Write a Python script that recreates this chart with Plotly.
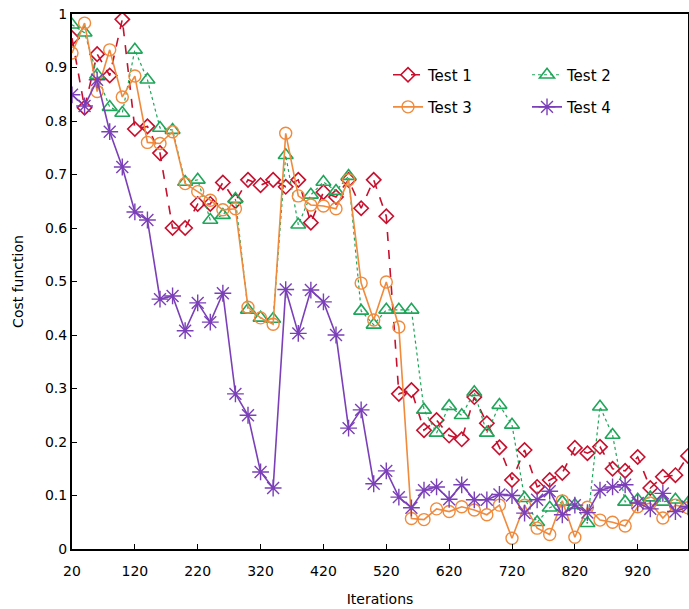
import plotly.graph_objects as go

iterations = list(range(20, 1001, 20))

test1 = [0.955, 0.825, 0.925, 0.885, 0.99, 0.785, 0.79, 0.74, 0.60, 0.60,
         0.645, 0.645, 0.685, 0.65, 0.69, 0.68, 0.69, 0.677, 0.69, 0.61,
         0.667, 0.658, 0.69, 0.637, 0.69, 0.622, 0.29, 0.297, 0.222, 0.241,
         0.212, 0.205, 0.284, 0.235, 0.19, 0.129, 0.185, 0.116, 0.129, 0.142,
         0.189, 0.179, 0.191, 0.15, 0.146, 0.172, 0.114, 0.135, 0.138, 0.174]

test2 = [0.98, 0.965, 0.886, 0.826, 0.815, 0.933, 0.877, 0.787, 0.783, 0.686,
         0.69, 0.615, 0.624, 0.654, 0.447, 0.432, 0.43, 0.736, 0.606, 0.662,
         0.686, 0.669, 0.697, 0.445, 0.419, 0.447, 0.447, 0.447, 0.26, 0.217,
         0.267, 0.25, 0.293, 0.217, 0.269, 0.232, 0.095, 0.05, 0.077, 0.088,
         0.082, 0.048, 0.266, 0.213, 0.088, 0.092, 0.096, 0.088, 0.092, 0.086]

test3 = [0.927, 0.983, 0.855, 0.933, 0.845, 0.884, 0.76, 0.758, 0.78, 0.683,
         0.668, 0.652, 0.634, 0.636, 0.452, 0.432, 0.42, 0.777, 0.66, 0.643,
         0.641, 0.636, 0.69, 0.497, 0.428, 0.499, 0.415, 0.057, 0.055, 0.075,
         0.07, 0.079, 0.073, 0.064, 0.082, 0.02, 0.082, 0.039, 0.027, 0.09,
         0.022, 0.078, 0.054, 0.05, 0.043, 0.079, 0.086, 0.058, 0.082, 0.077]

test4 = [0.849, 0.828, 0.877, 0.78, 0.714, 0.63, 0.615, 0.467, 0.473, 0.408,
         0.46, 0.424, 0.478, 0.29, 0.25, 0.144, 0.114, 0.485, 0.403, 0.484,
         0.462, 0.4, 0.226, 0.26, 0.122, 0.146, 0.097, 0.077, 0.11, 0.116,
         0.093, 0.12, 0.092, 0.092, 0.102, 0.1, 0.067, 0.092, 0.108, 0.064,
         0.082, 0.068, 0.11, 0.116, 0.12, 0.086, 0.075, 0.104, 0.07, 0.079]

x_ticks = [20, 120, 220, 320, 420, 520, 620, 720, 820, 920]

RED = "#C8102E"
GREEN = "#1FA65A"
ORANGE = "#F08A3C"
PURPLE = "#7B3FB8"

FONT = "DejaVu Sans, Verdana, sans-serif"

fig = go.Figure()

fig.add_trace(go.Scatter(
    x=iterations, y=test1, name="Test 1", mode="lines+markers",
    line=dict(color=RED, width=1.6, dash="dash"),
    marker=dict(symbol="diamond-open", size=11, color=RED, line=dict(width=1.6, color=RED)),
    legend="legend"))
fig.add_trace(go.Scatter(
    x=iterations, y=test2, name="Test 2", mode="lines+markers",
    line=dict(color=GREEN, width=1.2, dash="dot"),
    marker=dict(symbol="triangle-up-open", size=13, color=GREEN, line=dict(width=1.6, color=GREEN)),
    legend="legend"))
fig.add_trace(go.Scatter(
    x=iterations, y=test3, name="Test 3", mode="lines+markers",
    line=dict(color=ORANGE, width=1.6),
    marker=dict(symbol="circle-open", size=12, color=ORANGE, line=dict(width=1.4, color=ORANGE)),
    legend="legend2"))
fig.add_trace(go.Scatter(
    x=iterations, y=test4, name="Test 4", mode="lines+markers",
    line=dict(color=PURPLE, width=1.6),
    marker=dict(symbol="asterisk-open", size=14, color=PURPLE, line=dict(width=1.4, color=PURPLE)),
    legend="legend2"))

legend_common = dict(orientation="h", xanchor="left", yanchor="middle",
                     bgcolor="rgba(0,0,0,0)", entrywidth=94, entrywidthmode="pixels",
                     font=dict(family=FONT, size=15, color="#000"))

fig.update_layout(
    width=689, height=609,
    margin=dict(l=72, r=1, t=14, b=60, autoexpand=False),
    paper_bgcolor="white", plot_bgcolor="white",
    font=dict(family=FONT, size=14, color="#000000"),
    showlegend=True,
    legend=dict(x=0.513, y=0.886, **legend_common),
    legend2=dict(x=0.513, y=0.826, **legend_common),
    xaxis=dict(
        range=[20, 1000], tickvals=x_ticks, ticks="inside", ticklen=5, tickwidth=1,
        tickcolor="#000", showline=True, linecolor="#000", linewidth=2, mirror=True,
        showgrid=False, zeroline=False, ticklabelstandoff=8,
        title=dict(text="Iterations", font=dict(size=14), standoff=16),
        tickfont=dict(size=14),
    ),
    yaxis=dict(
        range=[0, 1], dtick=0.1, tick0=0, ticks="inside", ticklen=5, tickwidth=1,
        tickcolor="#000", showline=True, linecolor="#000", linewidth=2, mirror=True,
        showgrid=False, zeroline=False,
        title=dict(text="Cost function", font=dict(size=14), standoff=18),
        tickfont=dict(size=14),
    ),
)

fig.write_html("out.html")
